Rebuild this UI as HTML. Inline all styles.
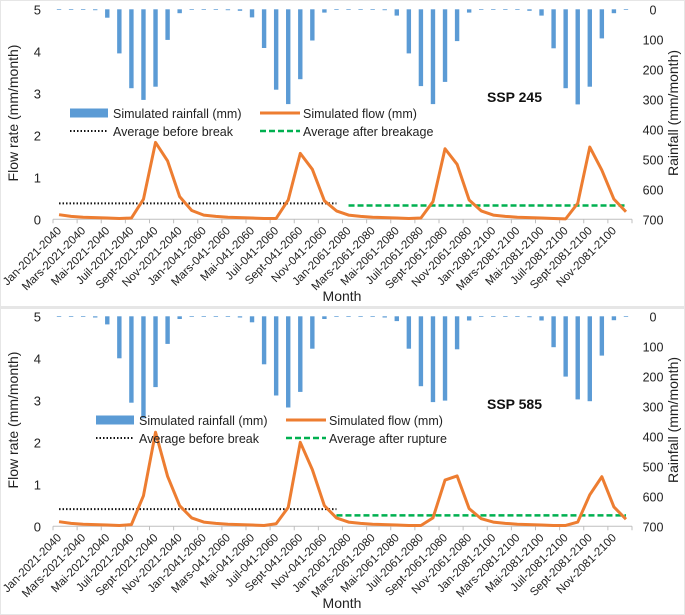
<!DOCTYPE html>
<html><head><meta charset="utf-8"><style>
html,body{margin:0;padding:0;background:#fff;}
svg{display:block;font-family:"Liberation Sans",sans-serif;}
</style></head><body>
<svg id="chart" width="685" height="615" viewBox="0 0 685 615"></svg>
<script>
const monthLabels = ["Jan-2021-2040","Mars-2021-2040","Mai-2021-2040","Juil-2021-2040","Sept-2021-2040","Nov-2021-2040","Jan-2041-2060","Mars-041-2060","Mai-041-2060","Juil-041-2060","Sept-041-2060","Nov-041-2060","Jan-2061-2080","Mars-2061-2080","Mai-2061-2080","Juil-2061-2080","Sept-2061-2080","Nov-2061-2080","Jan-2081-2100","Mars-2081-2100","Mai-2081-2100","Juil-2081-2100","Sept-2081-2100","Nov-2081-2100"];
const flowTicks = [0,1,2,3,4,5];
const rainTicks = [0,100,200,300,400,500,600,700];
const rain245 = [0,0,1,3,28,147,263,302,258,102,13,0, 0,1,3,5,27,129,268,316,233,104,11,0, 0,0,1,3,21,147,256,316,242,106,11,0, 0,0,1,5,21,130,263,317,258,97,13,0];
const flow245 = [0.11,0.07,0.05,0.04,0.03,0.02,0.03,0.48,1.83,1.39,0.54,0.21, 0.1,0.07,0.05,0.04,0.03,0.02,0.02,0.46,1.57,1.19,0.44,0.2, 0.1,0.07,0.05,0.04,0.03,0.02,0.03,0.42,1.68,1.31,0.46,0.2, 0.1,0.07,0.05,0.04,0.03,0.02,0.01,0.38,1.72,1.17,0.48,0.18];
const avgBefore245 = 0.38, avgAfter245 = 0.33;
const rain585 = [0,0,2,4,27,140,288,340,236,92,9,0, 0,0,2,4,20,160,264,304,252,108,9,0, 0,0,1,4,16,108,233,286,281,110,14,0, 0,0,1,3,14,103,201,277,283,131,13,0];
const flow585 = [0.11,0.07,0.05,0.04,0.03,0.02,0.04,0.73,2.24,1.19,0.49,0.2, 0.1,0.07,0.05,0.04,0.03,0.02,0.06,0.45,2.0,1.35,0.49,0.2, 0.1,0.07,0.05,0.04,0.03,0.02,0.02,0.2,1.1,1.2,0.42,0.18, 0.1,0.07,0.05,0.04,0.03,0.02,0.02,0.1,0.75,1.18,0.46,0.17];
const avgBefore585 = 0.41, avgAfter585 = 0.26;

const NS="http://www.w3.org/2000/svg";
const svg=document.getElementById('chart');
function mk(tag,attrs,parent,text){const e=document.createElementNS(NS,tag);for(const k in attrs)e.setAttribute(k,attrs[k]);if(text!==undefined)e.textContent=text;(parent||svg).appendChild(e);return e;}

function panel(oy,rain,flow,avgB,avgA,afterStart,title,lx,afterLabel){
  const g=mk('g',{});
  
  
  const x0=53, cw=(632-53)/48;
  const yTop=oy+9.3, yBot=oy+219.3;
  const xs=i=>x0+cw*(i+0.5);
  const yf=v=>yBot-(v/5)*(yBot-yTop);
  const yr=v=>yTop+(v/700)*(yBot-yTop);
  const ax=mk('line',{x1:x0,x2:632,y1:yBot,y2:yBot,stroke:'#bfbfbf','stroke-width':1},g);
  
  
  for(let k=0;k<=24;k++){const tx=x0+k*2*cw;mk('line',{x1:tx,x2:tx,y1:yBot,y2:yBot+4,stroke:'#bfbfbf'},g);}
  flowTicks.forEach(t=>{const e=mk('text',{x:41,y:yf(t)+5,'text-anchor':'end','font-size':13,fill:'#222'},g,String(t));
    
    });
  rainTicks.forEach(t=>{const e=mk('text',{x:653,y:yr(t)+5,'text-anchor':'middle','font-size':12.5,fill:'#222'},g,String(t));
    
    });
  monthLabels.forEach((m,k)=>{const tx=xs(k*2)+3,ty=yBot+12;
    const e=mk('text',{x:tx,y:ty,'text-anchor':'end','font-size':11.5,fill:'#222',transform:`rotate(-45 ${tx} ${ty})`},g,m);
    
    });
  rain.forEach((v,i)=>{const h=Math.max(yr(v)-yTop,0.7);
    const b=mk('rect',{x:xs(i)-2.2,y:yTop,width:4.4,height:h,fill:'#5B9BD5'},g);
    
    });
  const ab=mk('line',{x1:xs(0),x2:xs(23),y1:yf(avgB),y2:yf(avgB),stroke:'#111','stroke-width':2,'stroke-dasharray':'1.5 2'},g);
  
  
  const aa=mk('line',{x1:xs(afterStart),x2:xs(47),y1:yf(avgA),y2:yf(avgA),stroke:'#00B050','stroke-width':2.5,'stroke-dasharray':'6 3'},g);
  
  
  const fl=mk('polyline',{points:flow.map((v,i)=>xs(i)+','+yf(v)).join(' '),fill:'none',stroke:'#ED7D31','stroke-width':3,'stroke-linejoin':'round'},g);
  
  
  const ly1=oy+113, ly2=oy+131;
  const lg=mk('g',{},g);
  
  
  mk('rect',{x:lx,y:ly1-4.5,width:38,height:9,fill:'#5B9BD5'},lg);
  mk('text',{x:lx+43,y:ly1+5,'font-size':12.5,fill:'#222'},lg,'Simulated rainfall (mm)');
  mk('line',{x1:lx+190,x2:lx+230,y1:ly1,y2:ly1,stroke:'#ED7D31','stroke-width':3},lg);
  mk('text',{x:lx+233,y:ly1+5,'font-size':12.5,fill:'#222'},lg,'Simulated flow (mm)');
  mk('line',{x1:lx,x2:lx+38,y1:ly2,y2:ly2,stroke:'#111','stroke-width':2,'stroke-dasharray':'1.5 2'},lg);
  mk('text',{x:lx+43,y:ly2+5,'font-size':12.5,fill:'#222'},lg,'Average before break');
  mk('line',{x1:lx+190,x2:lx+230,y1:ly2,y2:ly2,stroke:'#00B050','stroke-width':2.5,'stroke-dasharray':'6 3'},lg);
  mk('text',{x:lx+233,y:ly2+5,'font-size':12.5,fill:'#222'},lg,afterLabel);
  const tt=mk('text',{x:487,y:oy+102,'font-size':14,'font-weight':'bold',fill:'#111'},g,title);
  
  
  const yl=mk('text',{x:18,y:oy+113,'text-anchor':'middle','font-size':14,fill:'#222',transform:`rotate(-90 18 ${oy+113})`},g,'Flow rate (mm/month)');
  
  
  const yr2=mk('text',{x:678,y:oy+113,'text-anchor':'middle','font-size':14,fill:'#222',transform:`rotate(-90 678 ${oy+113})`},g,'Rainfall (mm/month)');
  
  
  const xl=mk('text',{x:342,y:oy+301,'text-anchor':'middle','font-size':14,fill:'#222'},g,'Month');
  
  
}
mk('rect',{x:0,y:306,width:685,height:3,fill:'#e6e6e6'});
mk('rect',{x:0,y:0,width:685,height:615,fill:'none',stroke:'#e6e6e6','stroke-width':2});
panel(0,rain245,flow245,avgBefore245,avgAfter245,24,'SSP 245',70,'Average after breakage');
panel(307,rain585,flow585,avgBefore585,avgAfter585,23,'SSP 585',96,'Average after rupture');
</script>
</body></html>
